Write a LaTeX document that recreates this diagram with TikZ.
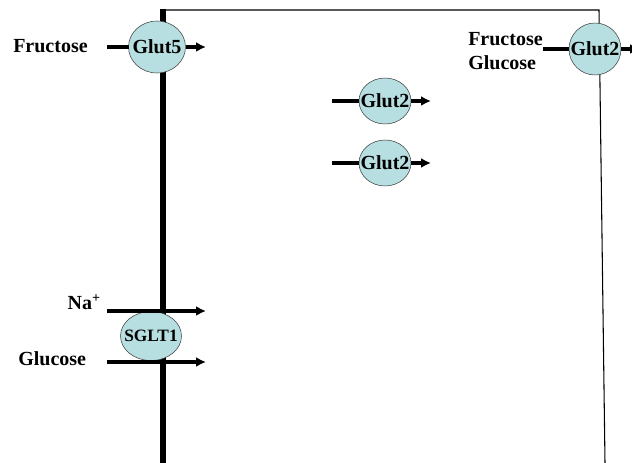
\documentclass[tikz,border=0pt]{standalone}
\usepackage{fontspec}
\setmainfont{Liberation Serif}
\definecolor{carrierfill}{RGB}{183,222,224}
\tikzset{
  carrier/.style={draw=black!75,fill=carrierfill,ellipse,inner sep=-6pt,outer sep=0pt,font=\bfseries\fontsize{15}{17}\selectfont},
  flux/.style={line width=2.4pt,-{Latex[length=7.5pt,width=7.5pt]}},
  influx/.style={line width=2.4pt},
  lbl/.style={font=\bfseries\fontsize{15}{17}\selectfont,inner sep=0pt}
}
\usetikzlibrary{shapes.geometric,arrows.meta}
\begin{document}
\begin{tikzpicture}[x=0.75pt,y=-0.75pt]
   \useasboundingbox (0,0) rectangle (632,463);
   % cell outline
   \draw[line width=0.8pt] (163,10) -- (599,10) -- (605,463);
   \draw[line width=4pt] (163,9) -- (163,463);
   % apical carriers
   \node[carrier,minimum width=42.75pt,minimum height=39pt] (glutfive) at (157,47) {Glut5};
   \node[lbl,anchor=west] (fru) at (13,46) {Fructose};
   \coordinate (fruin) at (107,47);
   \coordinate (fruout) at (206,47);
   \draw[influx] (fruin) -- (glutfive);
   \draw[flux] (glutfive) -- (fruout);
   \node[carrier,minimum width=45.75pt,minimum height=36.75pt,font=\bfseries\fontsize{13}{15}\selectfont] (sglt) at (151,336) {SGLT1};
   \node[lbl,anchor=east] (na) at (101,302) {Na\textsuperscript{+}};
   \node[lbl,anchor=west] (glc) at (18,359) {Glucose};
   \coordinate (nain) at (107,311);
   \coordinate (naout) at (206,311);
   \coordinate (glcin) at (107,362);
   \coordinate (glcout) at (206,362);
   \draw[flux] (nain) -- (naout);
   \draw[flux] (glcin) -- (glcout);
   % cytosolic carriers
   \node[carrier,minimum width=39pt,minimum height=34.5pt] (gluta) at (385,101) {Glut2};
   \node[carrier,minimum width=39pt,minimum height=34.5pt] (glutb) at (385,163) {Glut2};
   \coordinate (ain) at (332,101);
   \coordinate (aout) at (431,101);
   \coordinate (bin) at (332,163);
   \coordinate (bout) at (431,163);
   \draw[influx] (ain) -- (gluta);
   \draw[flux] (gluta) -- (aout);
   \draw[influx] (bin) -- (glutb);
   \draw[flux] (glutb) -- (bout);
   % basolateral carrier
   \node[carrier,minimum width=39pt,minimum height=39pt] (glutc) at (595,49) {Glut2};
   \node[lbl,anchor=west] (frub) at (468,39) {Fructose};
   \node[lbl,anchor=west] (glcb) at (468,63) {Glucose};
   \coordinate (cin) at (543,49);
   \coordinate (cout) at (640,49);
   \draw[influx] (cin) -- (glutc);
   \draw[flux] (glutc) -- (cout);
\end{tikzpicture}
\end{document}
